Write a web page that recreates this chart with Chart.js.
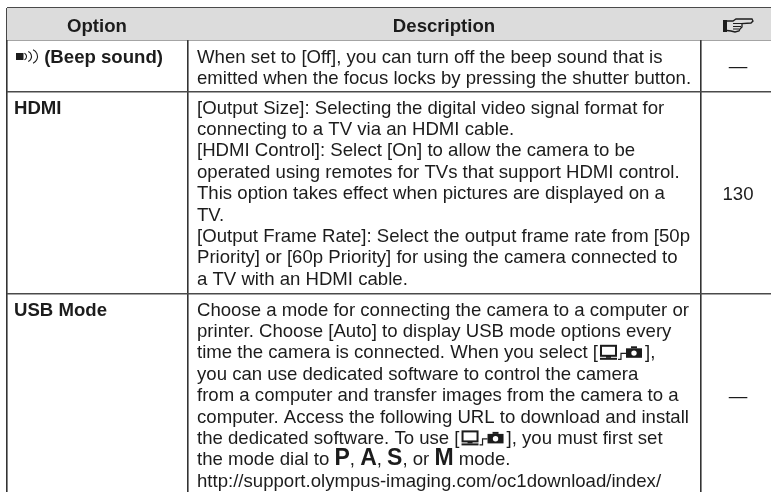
<!DOCTYPE html>
<html>
<head>
<meta charset="utf-8">
<style>
  html, body { margin: 0; padding: 0; background: #fff; }
  canvas { display: block; }
</style>
<script src="https://cdn.jsdelivr.net/npm/chart.js@4/dist/chart.umd.min.js"></script>
</head>
<body>
<canvas id="myChart" width="771" height="492"></canvas>
<script>
// table content
const headers = ['Option', 'Description'];
const options = ['@spk (Beep sound)', 'HDMI', 'USB Mode'];
const references = ['\u2014', '130', '\u2014'];
const descriptions = [
  [
    'When set to [Off], you can turn off the beep sound that is',
    'emitted when the focus locks by pressing the shutter button.',
  ],
  [
    '[Output Size]: Selecting the digital video signal format for',
    'connecting to a TV via an HDMI cable.',
    '[HDMI Control]: Select [On] to allow the camera to be',
    'operated using remotes for TVs that support HDMI control.',
    'This option takes effect when pictures are displayed on a',
    'TV.',
    '[Output Frame Rate]: Select the output frame rate from [50p',
    'Priority] or [60p Priority] for using the camera connected to',
    'a TV with an HDMI cable.',
  ],
  [
    'Choose a mode for connecting the camera to a computer or',
    'printer. Choose [Auto] to display USB mode options every',
    'time the camera is connected. When you select [@pc],',
    'you can use dedicated software to control the camera',
    'from a computer and transfer images from the camera to a',
    'computer. Access the following URL to download and install',
    'the dedicated software. To use [@pc], you must first set',
    'the mode dial to *P*, *A*, *S*, or *M* mode.',
    'http://support.olympus-imaging.com/oc1download/index/',
  ],
];

// layout of the page, in canvas pixels
const columnEdges = [6.5, 188, 701];
const rowEdges = [8, 40, 92, 294];
const firstLine = [63, 113.5, 315.5];
const linePitch = 21.4;
const INK = '#1c1c1c';
const FONT = '"Liberation Sans", Arial, sans-serif';
const TEXT_SIZE = 18.6;

function drawPcIcon(ctx, x, y) {
  ctx.fillStyle = INK;
  ctx.strokeStyle = INK;
  ctx.lineWidth = 2;
  ctx.strokeRect(x + 3, y - 12.5, 15, 10);
  ctx.fillRect(x + 8, y - 2.5, 5, 2);
  ctx.fillRect(x + 2, y - 0.5, 17, 2);
  ctx.lineWidth = 1.2;
  ctx.beginPath();
  ctx.moveTo(x + 20, y + 1);
  ctx.lineTo(x + 23, y + 1);
  ctx.lineTo(x + 23, y - 5);
  ctx.lineTo(x + 28, y - 5);
  ctx.stroke();
  ctx.fillRect(x + 28, y - 10, 16, 9.5);
  ctx.fillRect(x + 33, y - 12, 6, 2);
  ctx.fillStyle = '#fff';
  ctx.beginPath();
  ctx.arc(x + 36, y - 5.2, 2.7, 0, Math.PI * 2);
  ctx.fill();
  ctx.fillStyle = INK;
  return 47;
}

function drawSpeakerIcon(ctx, x, y) {
  ctx.fillStyle = INK;
  ctx.strokeStyle = INK;
  ctx.fillRect(x + 2, y - 10, 7.5, 7);
  ctx.lineWidth = 1.1;
  [[9, 3.5], [12, 5.5], [16, 7.5]].forEach(([dx, r]) => {
    ctx.beginPath();
    ctx.arc(x + dx, y - 6.5, r, -1.15, 1.15);
    ctx.stroke();
  });
  return 25;
}

// the page reference symbol in the header, x and y are its top left corner
function drawHandIcon(ctx, x, y) {
  ctx.fillStyle = INK;
  ctx.strokeStyle = INK;
  ctx.fillRect(x, y + 2, 4, 12);
  ctx.lineWidth = 1.3;
  ctx.beginPath();
  ctx.moveTo(x + 4, y + 3);
  ctx.lineTo(x + 10, y + 3);
  ctx.lineTo(x + 13, y + 1);
  ctx.lineTo(x + 29, y + 1);
  ctx.lineTo(x + 30, y + 3);
  ctx.lineTo(x + 28, y + 5);
  ctx.lineTo(x + 19, y + 5.5);
  ctx.lineTo(x + 19, y + 9);
  ctx.lineTo(x + 17, y + 11);
  ctx.lineTo(x + 16, y + 13);
  ctx.lineTo(x + 12, y + 14);
  ctx.lineTo(x + 8, y + 13);
  ctx.lineTo(x + 4, y + 12.5);
  ctx.stroke();
  ctx.lineWidth = 1;
  ctx.beginPath();
  ctx.moveTo(x + 10, y + 5.5);
  ctx.lineTo(x + 19, y + 5.5);
  ctx.moveTo(x + 10, y + 8.5);
  ctx.lineTo(x + 18, y + 8.5);
  ctx.moveTo(x + 10, y + 11);
  ctx.lineTo(x + 16, y + 11);
  ctx.stroke();
}

// one line of text, with the icon and bold letter tokens
function drawRich(ctx, str, x, y, size, weight) {
  const parts = str.split(/(@pc|@spk|\*\w\*)/).filter(Boolean);
  let cx = x;
  parts.forEach(part => {
    ctx.fillStyle = INK;
    if (part === '@pc') {
      cx += drawPcIcon(ctx, cx, y);
    } else if (part === '@spk') {
      cx += drawSpeakerIcon(ctx, cx, y);
    } else if (part[0] === '*') {
      ctx.font = 'bold 23px ' + FONT;
      ctx.fillText(part.slice(1, -1), cx, y);
      cx += ctx.measureText(part.slice(1, -1)).width;
    } else {
      ctx.font = weight + ' ' + size + 'px ' + FONT;
      ctx.fillText(part, cx, y);
      cx += ctx.measureText(part).width;
    }
  });
}

const tableText = {
  id: 'tableText',
  afterDraw(chart) {
    const { ctx, scales: { x, y } } = chart;
    ctx.save();
    ctx.textBaseline = 'alphabetic';
    ctx.textAlign = 'center';
    ctx.fillStyle = INK;
    const headY = y.getPixelForValue(32);
    ctx.font = 'bold ' + TEXT_SIZE + 'px ' + FONT;
    ctx.fillText(headers[0], x.getPixelForValue(97), headY);
    ctx.fillText(headers[1], x.getPixelForValue(444), headY);
    drawHandIcon(ctx, x.getPixelForValue(723), y.getPixelForValue(18));
    ctx.textAlign = 'left';
    options.forEach((opt, i) => {
      drawRich(ctx, opt, x.getPixelForValue(14), y.getPixelForValue(firstLine[i]), TEXT_SIZE, 'bold');
    });
    descriptions.forEach((lines, i) => {
      lines.forEach((line, j) => {
        drawRich(ctx, line, x.getPixelForValue(197), y.getPixelForValue(firstLine[i] + j * linePitch), TEXT_SIZE, 'normal');
      });
    });
    ctx.textAlign = 'center';
    ctx.font = TEXT_SIZE + 'px ' + FONT;
    const refY = [72, 199.5, 402];
    references.forEach((ref, i) => {
      ctx.fillText(ref, x.getPixelForValue(738), y.getPixelForValue(refY[i]));
    });
    ctx.restore();
  },
};

new Chart(document.getElementById('myChart').getContext('2d'), {
  type: 'line',
  data: {
    datasets: [{
      // header band, filled up to the top rule
      data: [{ x: columnEdges[0], y: rowEdges[1] }, { x: 771, y: rowEdges[1] }],
      borderWidth: 0,
      pointRadius: 0,
      backgroundColor: '#dcdcdc',
      fill: { value: rowEdges[0] },
    }],
  },
  options: {
    responsive: false,
    animation: false,
    layout: { padding: { left: 6.5, top: 8, right: 0, bottom: 0 } },
    plugins: { legend: { display: false }, tooltip: { enabled: false } },
    scales: {
      x: {
        type: 'linear',
        min: 6.5,
        max: 771,
        afterBuildTicks: axis => { axis.ticks = columnEdges.map(v => ({ value: v })); },
        ticks: { display: false, autoSkip: false },
        border: { display: false },
        grid: { color: '#333', lineWidth: 1.6, drawTicks: false },
      },
      y: {
        type: 'linear',
        reverse: true,
        min: 8,
        max: 492,
        afterBuildTicks: axis => { axis.ticks = rowEdges.map(v => ({ value: v })); },
        ticks: { display: false, autoSkip: false },
        border: { display: false },
        grid: { color: '#4a4a4a', lineWidth: 1.6, drawTicks: false },
      },
    },
  },
  plugins: [tableText],
});
</script>
</body>
</html>
